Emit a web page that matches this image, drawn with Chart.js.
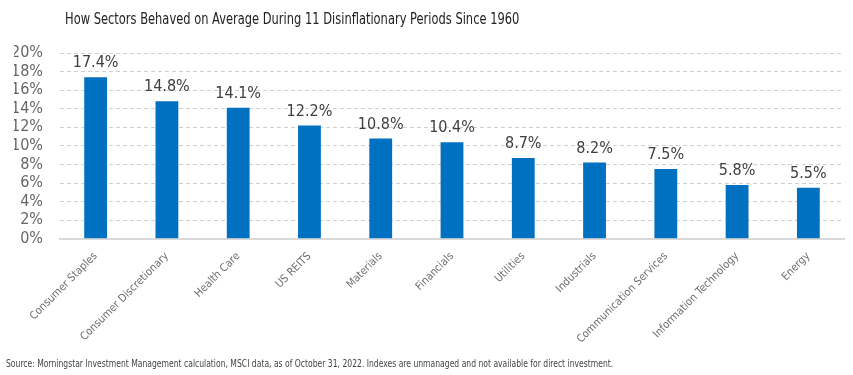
<html>
<head>
    <script src="https://cdn.jsdelivr.net/npm/chart.js@4.2.0/dist/chart.umd.min.js"></script>
    <style>
        body { margin: 0; background: #fff; }
        #wrap { position: relative; width: 853px; height: 375px; }
        #title { position: absolute; left: 65px; top: 10px; font: 15px "Liberation Sans Narrow", "DejaVu Sans Condensed", sans-serif; color: #222; transform: scaleX(0.85); transform-origin: left top; white-space: nowrap; }
        #source { position: absolute; left: 6px; top: 358px; font: 10px "Liberation Sans Narrow", "DejaVu Sans Condensed", sans-serif; color: #444; transform: scaleX(0.85); transform-origin: left top; white-space: nowrap; }
    </style>
</head>
<body>
<div id="wrap">
<canvas id="myChart" width="853" height="375"></canvas>
<div id="title">How Sectors Behaved on Average During 11 Disinflationary Periods Since 1960</div>
<div id="source">Source: Morningstar Investment Management calculation, MSCI data, as of October 31, 2022. Indexes are unmanaged and not available for direct investment.</div>
</div>
<script>
const FONT = '"Liberation Sans Narrow", "DejaVu Sans Condensed", sans-serif';

// Chart data
const sectors = ["Consumer Staples", "Consumer Discretionary", "Health Care", "US REITS", "Materials",
    "Financials", "Utilities", "Industrials", "Communication Services", "Information Technology", "Energy"];
const avgReturn = [17.4, 14.8, 14.1, 12.2, 10.8, 10.4, 8.7, 8.2, 7.5, 5.8, 5.5];
const yTicks = [0, 2, 4, 6, 8, 10, 12, 14, 16, 18, 20];

// Value labels above each bar
const barLabels = {
    id: "barLabels",
    afterDatasetsDraw(chart) {
        const c = chart.ctx;
        c.save();
        c.font = "16px " + FONT;
        c.fillStyle = "#404040";
        c.textAlign = "center";
        c.textBaseline = "bottom";
        chart.getDatasetMeta(0).data.forEach((bar, i) => {
            c.fillText(avgReturn[i].toFixed(1) + "%", bar.x, bar.y - 6);
        });
        c.restore();
    }
};

const ctx = document.getElementById("myChart").getContext("2d");
const chart = new Chart(ctx, {
    type: "bar",
    data: {
        labels: sectors,
        datasets: [{
            data: avgReturn,
            backgroundColor: "#0070c0",
            categoryPercentage: 1,
            barPercentage: 0.32
        }]
    },
    options: {
        responsive: false,
        animation: false,
        layout: { padding: { left: 14, right: 9, top: 53, bottom: 26 } },
        plugins: {
            legend: { display: false },
            tooltip: { enabled: false }
        },
        scales: {
            x: {
                grid: { display: false },
                border: { color: "#d9d9d9", width: 2 },
                afterFit: axis => { axis.paddingLeft = 0; axis.paddingRight = 0; },
                ticks: {
                    minRotation: 45,
                    maxRotation: 45,
                    color: "#6f6f6f",
                    font: { family: FONT, size: 11 }
                }
            },
            y: {
                min: 0,
                max: 20,
                afterBuildTicks: axis => { axis.ticks = yTicks.map(v => ({ value: v })); },
                afterFit: axis => { axis.width = 46; },
                border: { display: false, dash: [4, 3] },
                grid: { color: "#d0d0d0", drawTicks: false },
                ticks: {
                    autoSkip: false,
                    padding: 17,
                    color: "#666",
                    font: { family: FONT, size: 16 },
                    callback: v => v + "%"
                }
            }
        }
    },
    plugins: [barLabels]
});
</script>
</body>
</html>
